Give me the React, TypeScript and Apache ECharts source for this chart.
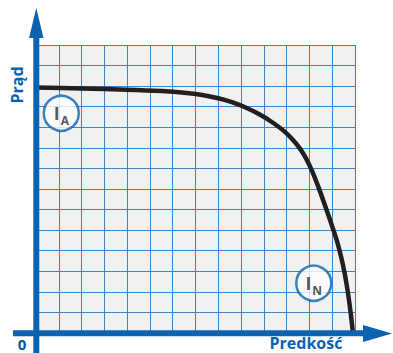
import React, { useEffect, useRef } from "react";
import * as echarts from "echarts";

// Curve: current vs speed (grid units, 14 x 14)
const curveX = [0, 2, 4, 5.5, 6.5, 7.3, 8.0, 8.6, 9.2, 9.8, 10.4, 10.9, 11.3, 11.6, 11.85, 12.1, 12.4, 12.7, 12.95, 13.2, 13.4, 13.55, 13.68, 13.8, 13.91];
const curveY = [11.93, 11.89, 11.83, 11.76, 11.68, 11.57, 11.41, 11.22, 10.96, 10.63, 10.22, 9.8, 9.36, 8.94, 8.49, 7.92, 7.08, 6.15, 5.35, 4.5, 3.66, 2.88, 2.03, 1.07, 0];

const markerNames = ["A", "N"];
const markerX = [1.11, 12.19];
const markerY = [10.68, 2.42];

const axisMax = 14;
const yLabel = "Prąd";
const xLabel = "Predkość";
const originLabel = "0";

const BLUE = "#0b62b0";
const GRID_BLUE = "#3a84cc";

export default function App() {
  const ref = useRef<HTMLDivElement>(null);
  useEffect(() => {
    if (!ref.current) return;
    const chart = echarts.init(ref.current, undefined, { renderer: "svg" });
    const font = "'Open Sans', 'DejaVu Sans', sans-serif";
    chart.setOption({
      animation: false,
      grid: {
        left: 36,
        top: 45,
        width: 319,
        height: 288,
        show: true,
        backgroundColor: "#f1f1f1",
        borderWidth: 0,
      },
      xAxis: {
        type: "value",
        min: 0,
        max: axisMax,
        interval: 1,
        axisLine: { show: false },
        axisTick: { show: false },
        axisLabel: { show: false },
        splitLine: { show: true, lineStyle: { color: GRID_BLUE, width: 1 } },
      },
      yAxis: {
        type: "value",
        min: 0,
        max: axisMax,
        interval: 1,
        axisLine: { show: false },
        axisTick: { show: false },
        axisLabel: { show: false },
        splitLine: { show: true, lineStyle: { color: GRID_BLUE, width: 1 } },
      },
      series: [
        {
          type: "line",
          data: curveX.map((x, i) => [x, curveY[i]]),
          smooth: 0.3,
          showSymbol: false,
          symbol: "none",
          lineStyle: { color: "#231f20", width: 4.5 },
          z: 3,
        },
        {
          type: "scatter",
          data: markerNames.map((n, i) => ({ value: [markerX[i], markerY[i]], name: n })),
          symbol: "circle",
          symbolSize: 35,
          itemStyle: { color: "#ffffff", borderColor: BLUE, borderWidth: 2.5 },
          label: {
            show: true,
            position: "inside",
            formatter: (p: any) => `{i|I}{s|${p.name}}`,
            rich: {
              i: { fontSize: 18, fontWeight: "bold", color: "#2b2b2b", fontFamily: font, verticalAlign: "bottom", lineHeight: 18 },
              s: { fontSize: 12, fontWeight: "bold", color: "#2b2b2b", fontFamily: font, verticalAlign: "bottom", lineHeight: 12, padding: [0, 0, -4, 1] },
            },
          },
          z: 4,
        },
      ],
      graphic: [
        { type: "line", z: 10, shape: { x1: 36.3, y1: 36, x2: 36.3, y2: 353 }, style: { stroke: BLUE, lineWidth: 6 } },
        { type: "polygon", z: 10, shape: { points: [[36.3, 8], [29, 38], [43.5, 38]] }, style: { fill: BLUE } },
        { type: "line", z: 10, shape: { x1: 13, y1: 333.3, x2: 365, y2: 333.3 }, style: { stroke: BLUE, lineWidth: 6 } },
        { type: "polygon", z: 10, shape: { points: [[392, 333.5], [363, 325], [363, 342]] }, style: { fill: BLUE } },
        {
          type: "text",
          z: 10,
          x: 17,
          y: 85,
          rotation: Math.PI / 2,
          style: { text: yLabel, fill: BLUE, font: `bold 16px ${font}`, align: "center", verticalAlign: "middle" },
        },
        {
          type: "text",
          z: 10,
          x: 22,
          y: 344,
          style: { text: originLabel, fill: "#0a559a", font: `bold 15px ${font}`, lineHeight: 12, align: "center", verticalAlign: "middle" },
        },
        {
          type: "text",
          z: 10,
          x: 306,
          y: 342.5,
          style: { text: xLabel, fill: BLUE, font: `bold 16px ${font}`, lineHeight: 12, align: "center", verticalAlign: "middle" },
        },
      ],
    });
    return () => chart.dispose();
  }, []);
  return (
    <div
      ref={ref}
      style={{ position: "absolute", left: 0, top: 0, width: 393, height: 353, background: "#ffffff" }}
    />
  );
}
